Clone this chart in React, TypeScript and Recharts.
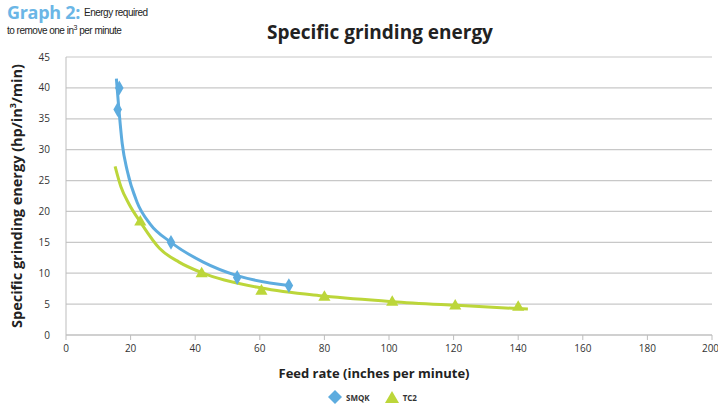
import React from "react";
import {
  ComposedChart,
  Line,
  Scatter,
  XAxis,
  YAxis,
  CartesianGrid,
} from "recharts";

// Measured points
const smqkPoints = [
  { x: 16.5, y: 40 },
  { x: 16, y: 36.5 },
  { x: 32.5, y: 15 },
  { x: 53, y: 9.3 },
  { x: 69, y: 8 },
];
const tc2Points = [
  { x: 23, y: 18.3 },
  { x: 42, y: 9.9 },
  { x: 60.5, y: 7.1 },
  { x: 80, y: 6.1 },
  { x: 101, y: 5.3 },
  { x: 120.5, y: 4.7 },
  { x: 140, y: 4.5 },
];
// Trendlines
const smqkTrend = [
  { x: 15.6, y: 41.5 },
  { x: 16.3, y: 37 },
  { x: 17.4, y: 31 },
  { x: 19, y: 26.5 },
  { x: 22, y: 21.5 },
  { x: 26, y: 18 },
  { x: 32.5, y: 15 },
  { x: 42.5, y: 11.8 },
  { x: 53, y: 9.6 },
  { x: 69, y: 8 },
];
const tc2Trend = [
  { x: 15.2, y: 27.3 },
  { x: 17, y: 24 },
  { x: 19.5, y: 21.2 },
  { x: 23, y: 18.3 },
  { x: 29, y: 14 },
  { x: 35, y: 11.8 },
  { x: 42, y: 10.1 },
  { x: 60.5, y: 7.6 },
  { x: 80, y: 6.3 },
  { x: 101, y: 5.4 },
  { x: 121, y: 4.8 },
  { x: 143, y: 4.2 },
];
const xTicks = [0, 20, 40, 60, 80, 100, 120, 140, 160, 180, 200];
const yTicks = [0, 5, 10, 15, 20, 25, 30, 35, 40, 45];
const legendItems = [
  { name: "SMQK", color: "#5dacdf", shape: "diamond" },
  { name: "TC2", color: "#bcd63a", shape: "triangle" },
];

const BLUE = "#5dacdf";
const GREEN = "#bcd63a";
const FONT = "'Open Sans', 'Liberation Sans', sans-serif";
const NARROW = "'Liberation Sans Narrow', 'Liberation Sans', sans-serif";

export default function App() {
  return (
    <div
      style={{
        position: "absolute",
        left: 0,
        top: 0,
        width: 718,
        height: 410,
        background: "#fff",
        fontFamily: FONT,
        overflow: "hidden",
      }}
    >
      <ComposedChart
        width={718}
        height={410}
        margin={{ top: 57, right: 6, bottom: 45, left: 0 }}
      >
        <CartesianGrid vertical={false} stroke="#c8c8c8" strokeWidth={1.2} />
        <XAxis
          type="number"
          dataKey="x"
          domain={[0, 200]}
          ticks={xTicks}
          allowDataOverflow
          stroke="#bdbdbd"
          tickSize={5}
          height={30}
          tick={{ fontSize: 10, fill: "#333", fontFamily: FONT }}
          tickMargin={5}
        />
        <YAxis
          type="number"
          dataKey="y"
          domain={[0, 45]}
          ticks={yTicks}
          width={66}
          stroke="#bdbdbd"
          tickLine={false}
          tick={{ fontSize: 10, fill: "#333", fontFamily: FONT }}
          tickMargin={10}
        />
        <Line
          data={smqkTrend}
          dataKey="y"
          type="monotone"
          stroke={BLUE}
          strokeWidth={3}
          dot={false}
          isAnimationActive={false}
        />
        <Line
          data={tc2Trend}
          dataKey="y"
          type="monotone"
          stroke={GREEN}
          strokeWidth={3}
          dot={false}
          isAnimationActive={false}
        />
        <Scatter
          name="SMQK"
          data={smqkPoints}
          dataKey="y"
          fill={BLUE}
          shape="diamond"
          isAnimationActive={false}
        />
        <Scatter
          name="TC2"
          data={tc2Points}
          dataKey="y"
          fill={GREEN}
          shape="triangle"
          isAnimationActive={false}
        />
      </ComposedChart>

      {/* header */}
      <div
        style={{
          position: "absolute",
          left: 7,
          top: 3,
          height: 18,
          lineHeight: "18px",
          whiteSpace: "nowrap",
          color: "#6bb6e6",
          fontWeight: 700,
          fontSize: 18,
          letterSpacing: -0.3,
        }}
      >
        Graph 2:
      </div>
      <div
        style={{
          position: "absolute",
          left: 84,
          top: 8,
          lineHeight: "10px",
          whiteSpace: "nowrap",
          fontSize: 10,
          color: "#222",
          letterSpacing: -0.5,
          fontFamily: NARROW,
        }}
      >
        Energy required
      </div>
      <div
        style={{
          position: "absolute",
          left: 7,
          top: 26,
          lineHeight: "10px",
          whiteSpace: "nowrap",
          fontSize: 10,
          color: "#222",
          letterSpacing: -0.5,
          fontFamily: NARROW,
        }}
      >
        to remove one in<sup style={{ fontSize: 7, lineHeight: 0 }}>3</sup> per minute
      </div>

      <div
        style={{
          position: "absolute",
          left: 0,
          width: 760,
          top: 19,
          textAlign: "center",
          fontSize: 19,
          fontWeight: 700,
          color: "#222",
        }}
      >
        Specific grinding energy
      </div>

      <div
        style={{
          position: "absolute",
          left: 16,
          top: 196,
          transform: "translate(-50%, -50%) rotate(-90deg)",
          whiteSpace: "nowrap",
          fontSize: 14.5,
          fontWeight: 700,
          color: "#222",
        }}
      >
        Specific grinding energy (hp/in<sup style={{ fontSize: 9, lineHeight: 0 }}>3</sup>/min)
      </div>

      <div
        style={{
          position: "absolute",
          left: 374,
          top: 373,
          transform: "translate(-50%, -50%)",
          whiteSpace: "nowrap",
          fontSize: 13,
          fontWeight: 700,
          color: "#222",
        }}
      >
        Feed rate (inches per minute)
      </div>

      {/* legend */}
      <div
        style={{
          position: "absolute",
          left: 327,
          top: 389,
          display: "flex",
          alignItems: "center",
          gap: 14,
          fontSize: 8,
          fontWeight: 700,
          color: "#333",
        }}
      >
        {legendItems.map((it) => (
          <div key={it.name} style={{ display: "flex", alignItems: "center", gap: 3 }}>
            <svg width={16} height={16}>
              {it.shape === "diamond" ? (
                <polygon points="8,1 15,8 8,15 1,8" fill={it.color} />
              ) : (
                <polygon points="8,2 15,14 1,14" fill={it.color} />
              )}
            </svg>
            <span>{it.name}</span>
          </div>
        ))}
      </div>
    </div>
  );
}
